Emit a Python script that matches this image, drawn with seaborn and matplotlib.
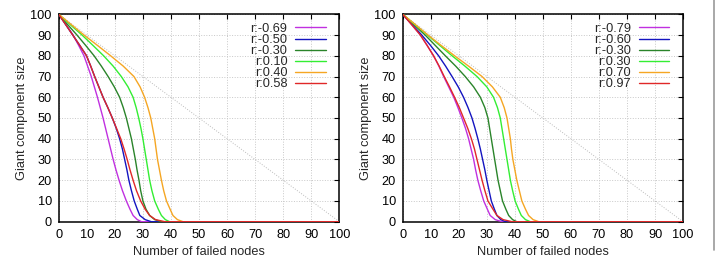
import numpy as np
import pandas as pd
import matplotlib
matplotlib.use("Agg")
import matplotlib.pyplot as plt
import seaborn as sns
from matplotlib.lines import Line2D

# --- DATA ---
# giant component size levels at which the curves were read
size_levels = [100, 95, 90, 85, 80, 75, 70, 65, 60, 55, 50, 45, 40,
               35, 30, 25, 20, 15, 10, 6, 3, 1, 0]

# left panel: number of failed nodes where each curve crosses the level
left_labels = ["r:-0.69", "r:-0.50", "r:-0.30", "r:0.10", "r:0.40", "r:0.58"]
left_m069 = [0, 2.6, 5.1, 7.1, 9.0, 10.3, 11.6, 12.7, 13.8, 14.8, 15.8, 16.7, 17.6,
             18.5, 19.4, 20.4, 21.5, 22.7, 24.1, 25.4, 26.5, 28.0, 29.5]
left_m050 = [0, 2.5, 5.0, 7.5, 9.9, 11.4, 12.8, 14.3, 15.8, 17.5, 19.1, 20.5, 21.7,
             22.7, 23.5, 24.3, 25.0, 25.9, 26.9, 28.0, 28.9, 30.8, 33.0]
left_m030 = [0, 3.2, 6.5, 9.6, 12.6, 15.2, 17.6, 19.8, 21.7, 23.0, 24.1, 25.0, 25.9,
             26.6, 27.3, 27.9, 28.6, 29.2, 30.0, 31.1, 32.4, 34.2, 36.6]
left_p010 = [0, 4.1, 8.3, 12.2, 16.0, 19.4, 22.3, 24.7, 26.5, 27.6, 28.5, 29.3, 30.0,
             30.6, 31.2, 31.8, 32.4, 33.2, 34.2, 35.5, 36.6, 38.0, 39.5]
left_p040 = [0, 4.5, 9.0, 13.8, 18.5, 23.0, 26.8, 29.0, 30.6, 31.8, 32.8, 33.5, 34.2,
             34.7, 35.2, 35.9, 36.6, 37.4, 38.4, 39.7, 40.7, 42.3, 44.3]
left_p058 = [0, 2.5, 5.0, 7.5, 9.9, 11.4, 12.8, 14.3, 15.8, 17.5, 19.1, 20.6, 22.1,
             23.3, 24.4, 25.4, 26.5, 27.7, 29.2, 30.8, 32.4, 34.5, 37.8]

# right panel
right_labels = ["r:-0.79", "r:-0.60", "r:-0.30", "r:0.30", "r:0.70", "r:0.97"]
right_m079 = [0, 3.2, 6.3, 8.7, 11.0, 12.9, 14.6, 16.4, 18.2, 19.7, 21.1, 22.4, 23.5,
              24.4, 25.3, 26.0, 26.8, 27.8, 28.9, 30.2, 31.2, 33.0, 35.4]
right_m060 = [0, 3.4, 6.8, 9.9, 12.8, 15.3, 17.6, 19.8, 21.7, 23.3, 24.7, 25.8, 26.8,
              27.7, 28.5, 29.3, 30.0, 30.8, 31.6, 32.7, 33.6, 35.0, 36.6]
right_m030 = [0, 4.0, 8.0, 11.6, 15.2, 18.9, 22.3, 25.3, 27.7, 29.3, 30.4, 31.0, 31.6,
              32.2, 32.8, 33.4, 34.0, 34.8, 35.6, 36.8, 37.8, 39.2, 40.7]
right_p030 = [0, 4.4, 8.8, 13.2, 17.6, 22.2, 26.5, 30.0, 32.4, 33.8, 34.8, 35.4, 36.0,
              36.6, 37.2, 37.8, 38.4, 39.2, 40.1, 41.3, 42.3, 43.8, 45.5]
right_p070 = [0, 4.5, 9.0, 13.7, 18.5, 23.5, 28.3, 32.0, 34.8, 36.2, 37.2, 37.8, 38.4,
              38.8, 39.3, 40.0, 40.7, 41.6, 42.5, 43.8, 44.9, 46.5, 48.5]
right_p097 = [0, 3.2, 6.3, 8.7, 11.0, 13.0, 14.8, 16.7, 18.5, 20.2, 21.7, 23.2, 24.5,
              25.6, 26.5, 27.4, 28.3, 29.3, 30.4, 32.2, 33.6, 35.8, 39.0]

# all curves stay at zero until every node has failed
total_nodes = 100

# reference diagonal (size = remaining nodes)
diag_x = [0, 100]
diag_y = [100, 0]

colors = ["#c030e0", "#1414c0", "#2a842a", "#33ee33", "#f5a623", "#e02828"]

sns.set_theme(style="white")
plt.rcParams["font.family"] = ["Liberation Sans", "DejaVu Sans"]
FS = 9.2


def draw_panel(ax, labels, curves):
    ax.plot(diag_x, diag_y, color="#bbbbbb", lw=0.7, ls=":", zorder=1)
    for lab, xs, col in zip(labels, curves, colors):
        d = pd.DataFrame({"failed": xs + [total_nodes],
                          "size": size_levels + [0]})
        sns.lineplot(data=d, x="failed", y="size", color=col, lw=1.0,
                     sort=False, estimator=None, label=lab, ax=ax, zorder=3)
    ax.set_xlim(0, 100)
    ax.set_ylim(0, 100)
    ax.set_xticks(np.arange(0, 101, 10))
    ax.set_yticks(np.arange(0, 101, 10))
    ax.grid(True, color="#c8c8c8", ls=":", lw=0.7)
    ax.tick_params(direction="in", length=3.5, width=0.8, top=True, right=True,
                   labelsize=FS, pad=5, colors="black")
    for s in ax.spines.values():
        s.set_color("black")
        s.set_linewidth(1.1)
    ax.set_xlabel("Number of failed nodes", fontsize=FS, labelpad=4)
    ax.set_ylabel("Giant component size", fontsize=FS, labelpad=2)
    ax.legend(loc="upper right", bbox_to_anchor=(0.967, 0.98), frameon=False,
              markerfirst=False, fontsize=FS, handlelength=2.4, handletextpad=0.6,
              labelspacing=-0.07, borderaxespad=0.0, borderpad=0.35)


fig = plt.figure(figsize=(7.18, 2.58), dpi=100)
ax1 = fig.add_axes([0.0818, 0.1407, 0.3908, 0.8039])
ax2 = fig.add_axes([0.5609, 0.1407, 0.3904, 0.8039])

draw_panel(ax1, left_labels, [left_m069, left_m050, left_m030, left_p010, left_p040, left_p058])
draw_panel(ax2, right_labels, [right_m079, right_m060, right_m030, right_p030, right_p070, right_p097])

# thin page border on the right edge
fig.add_artist(Line2D([0.9945, 0.9945], [0.03, 1.0], transform=fig.transFigure,
                      color="#999999", lw=1.2))

fig.savefig("out.png", dpi=100)
